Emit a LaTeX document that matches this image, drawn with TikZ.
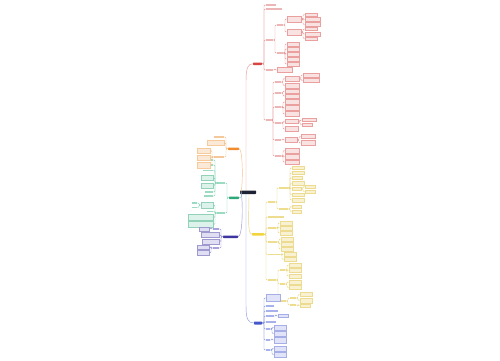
\documentclass[tikz,border=0pt]{standalone}
\definecolor{rL}{HTML}{E89A9A}\definecolor{rD}{HTML}{D9534F}\definecolor{rF}{HTML}{FDECEC}\definecolor{rT}{HTML}{EDB6B6}\definecolor{rM}{HTML}{D64541}
\definecolor{yL}{HTML}{EAD77A}\definecolor{yD}{HTML}{E3C34A}\definecolor{yF}{HTML}{FFF9DC}\definecolor{yT}{HTML}{EEDC8F}\definecolor{yM}{HTML}{F2D43D}
\definecolor{bL}{HTML}{8E9BE0}\definecolor{bD}{HTML}{5B6BD0}\definecolor{bF}{HTML}{EEF0FC}\definecolor{bT}{HTML}{A8B2EA}\definecolor{bM}{HTML}{4458C8}
\definecolor{gL}{HTML}{86D3B5}\definecolor{gD}{HTML}{3AAE80}\definecolor{gF}{HTML}{E8F8F1}\definecolor{gT}{HTML}{9ADBC2}\definecolor{gM}{HTML}{2EA878}
\definecolor{oL}{HTML}{F2C28C}\definecolor{oD}{HTML}{EE9F4A}\definecolor{oF}{HTML}{FDF2E6}\definecolor{oT}{HTML}{F3C89A}\definecolor{oM}{HTML}{F08C2E}
\definecolor{pL}{HTML}{9C96D8}\definecolor{pD}{HTML}{4E45A8}\definecolor{pF}{HTML}{EFEEF9}\definecolor{pT}{HTML}{A7A2DC}\definecolor{pM}{HTML}{3E35A0}
\definecolor{cM}{HTML}{1E2235}
\newcommand\MBX[6]{\node[#1,anchor=north west,minimum width=#5pt,minimum height=#6pt] (#2) at (#3,#4) {};}
\newcommand\MBXL[6]{\node[#1,anchor=north east,minimum width=#5pt,minimum height=#6pt] (#2) at (#3,#4) {};}
\newcommand\MLB[5]{\node[#1,anchor=west,minimum width=#5pt] (#2) at (#3,#4) {};}
\newcommand\MLBL[5]{\node[#1,anchor=east,minimum width=#5pt] (#2) at (#3,#4) {};}
\newcommand\ER[3]{\draw[#1] (#2.east) -- ++(2,0) |- (#3.west);}
\newcommand\EL[3]{\draw[#1] (#2.west) -- ++(-2,0) |- (#3.east);}
\begin{document}
\begin{tikzpicture}[x=1pt,y=-1pt,
  every node/.style={inner sep=0pt,outer sep=0pt},
  mainnode/.style={rounded corners=0.6pt},
  mainR/.style={mainnode,fill=rM},mainY/.style={mainnode,fill=yM},mainB/.style={mainnode,fill=bM},
  mainG/.style={mainnode,fill=gM},mainO/.style={mainnode,fill=oM},mainP/.style={mainnode,fill=pM},mainC/.style={mainnode,fill=cM},
  boxR/.style={draw=rD!55,fill=rT!40,line width=0.25pt},boxY/.style={draw=yD!60,fill=yT!40,line width=0.25pt},
  boxB/.style={draw=bD!55,fill=bT!35,line width=0.25pt},boxG/.style={draw=gD!55,fill=gT!35,line width=0.25pt},
  boxO/.style={draw=oD!55,fill=oT!40,line width=0.25pt},boxP/.style={draw=pD!55,fill=pT!35,line width=0.25pt},
  labR/.style={fill=rT,minimum height=1.6pt},labY/.style={fill=yT,minimum height=1.6pt},
  labB/.style={fill=bT,minimum height=1.6pt},labG/.style={fill=gT,minimum height=1.6pt},
  labO/.style={fill=oT,minimum height=1.6pt},labP/.style={fill=pT,minimum height=1.6pt},
  lnR/.style={draw=rL,line width=0.45pt,rounded corners=1pt},
  lnY/.style={draw=yL,line width=0.45pt,rounded corners=1pt},
  lnB/.style={draw=bL,line width=0.45pt,rounded corners=1pt},
  lnG/.style={draw=gL,line width=0.45pt,rounded corners=1pt},
  lnO/.style={draw=oL,line width=0.45pt,rounded corners=1pt},
  lnP/.style={draw=pL,line width=0.45pt,rounded corners=1pt}]
\fill[white] (0,0) rectangle (500,360);
\useasboundingbox (0,0) rectangle (500,360);
% centre
\MBX{mainC}{C}{240}{190.5}{16}{3.5}
% ===== red =====
\MBX{mainR}{R}{253}{62.5}{9}{2.5}
\MLB{labR}{ra}{266}{5}{10}
\MLB{labR}{rb}{266}{9}{16}
\MLB{labR}{rc}{266}{40}{7}
\MLB{labR}{rc1}{277}{25}{6}
\MBX{boxR}{rc1a}{287}{16}{14}{6}
\MBX{boxR}{rc1a1}{305}{13}{12}{3}
\MBX{boxR}{rc1a2}{305}{17.5}{15}{4}
\MBX{boxR}{rc1a3}{305}{22.5}{15}{4}
\MBX{boxR}{rc1b}{287}{29}{14}{6}
\MBX{boxR}{rc1b1}{305}{27.5}{12}{3}
\MBX{boxR}{rc1b2}{305}{32}{15}{4}
\MBX{boxR}{rc1b3}{305}{37}{12}{3}
\MLB{labR}{rc2}{277}{53}{6}
\MBX{boxR}{rc2a}{287}{42}{12}{4}
\MBX{boxR}{rc2b}{287}{47}{12}{4}
\MBX{boxR}{rc2c}{287}{52}{12}{4}
\MBX{boxR}{rc2d}{287}{57}{12}{4}
\MBX{boxR}{rc2e}{287}{62}{12}{4}
\MLB{labR}{rd}{266}{70}{7}
\MBX{boxR}{rd1}{277}{67.5}{15}{5}
\MLB{labR}{re}{266}{120}{5}
\MLB{labR}{re1}{275}{82}{6}
\MBX{boxR}{re1a}{285}{76}{14}{5}
\MBX{boxR}{re1a1}{303}{73}{16}{4}
\MBX{boxR}{re1a2}{303}{78.5}{16}{4}
\MBX{boxR}{re1b}{285}{83}{14}{5}
\MLB{labR}{re2}{275}{93}{6}
\MBX{boxR}{re2a}{285}{89}{14}{4}
\MBX{boxR}{re2b}{285}{94}{14}{4}
\MLB{labR}{re3}{275}{107}{6}
\MBX{boxR}{re3a}{285}{99.5}{14}{5}
\MBX{boxR}{re3b}{285}{105.5}{14}{5}
\MBX{boxR}{re3c}{285}{111.5}{14}{5}
\MLB{labR}{re4}{275}{123}{6}
\MBX{boxR}{re4a}{285}{119.5}{13}{4}
\MBX{boxR}{re4a1}{302}{118.5}{14}{3}
\MBX{boxR}{re4a2}{302}{123}{10}{3}
\MBX{boxR}{re4b}{285}{126.5}{13}{5}
\MLB{labR}{re5}{275}{140}{6}
\MBX{boxR}{re5a}{285}{137.5}{12}{5}
\MBX{boxR}{re5a1}{301}{134.5}{14}{4}
\MBX{boxR}{re5a2}{301}{140.5}{14}{5}
\MLB{labR}{re6}{275}{156}{6}
\MBX{boxR}{re6a}{285}{148}{14}{5}
\MBX{boxR}{re6b}{285}{154}{14}{5}
\MBX{boxR}{re6c}{285}{160}{14}{4}
\ER{lnR}{R}{ra}\ER{lnR}{R}{rb}\ER{lnR}{R}{rc}\ER{lnR}{R}{rd}\ER{lnR}{R}{re}
\ER{lnR}{rc}{rc1}\ER{lnR}{rc}{rc2}
\ER{lnR}{rc1}{rc1a}\ER{lnR}{rc1}{rc1b}
\ER{lnR}{rc1a}{rc1a1}\ER{lnR}{rc1a}{rc1a2}\ER{lnR}{rc1a}{rc1a3}
\ER{lnR}{rc1b}{rc1b1}\ER{lnR}{rc1b}{rc1b2}\ER{lnR}{rc1b}{rc1b3}
\ER{lnR}{rc2}{rc2a}\ER{lnR}{rc2}{rc2b}\ER{lnR}{rc2}{rc2c}\ER{lnR}{rc2}{rc2d}\ER{lnR}{rc2}{rc2e}
\ER{lnR}{rd}{rd1}
\ER{lnR}{re}{re1}\ER{lnR}{re}{re2}\ER{lnR}{re}{re3}\ER{lnR}{re}{re4}\ER{lnR}{re}{re5}\ER{lnR}{re}{re6}
\ER{lnR}{re1}{re1a}\ER{lnR}{re1}{re1b}\ER{lnR}{re1a}{re1a1}\ER{lnR}{re1a}{re1a2}
\ER{lnR}{re2}{re2a}\ER{lnR}{re2}{re2b}
\ER{lnR}{re3}{re3a}\ER{lnR}{re3}{re3b}\ER{lnR}{re3}{re3c}
\ER{lnR}{re4}{re4a}\ER{lnR}{re4}{re4b}\ER{lnR}{re4a}{re4a1}\ER{lnR}{re4a}{re4a2}
\ER{lnR}{re5}{re5a}\ER{lnR}{re5a}{re5a1}\ER{lnR}{re5a}{re5a2}
\ER{lnR}{re6}{re6a}\ER{lnR}{re6}{re6b}\ER{lnR}{re6}{re6c}
% ===== yellow =====
\MBX{mainY}{Y}{252}{233}{12}{2.5}
\MLB{labY}{ya}{268}{202}{7}
\MLB{labY}{ya1}{279}{188}{9}
\MBX{boxY}{ya1a}{292}{166.5}{12}{3}
\MBX{boxY}{ya1b}{292}{171.5}{12}{3}
\MBX{boxY}{ya1c}{292}{176.5}{10}{3}
\MBX{boxY}{ya1d}{292}{181.5}{12}{4}
\MBX{boxY}{ya1e}{292}{187}{9}{3}
\MBX{boxY}{ya1e1}{305}{185}{10}{3}
\MBX{boxY}{ya1e2}{305}{190}{10}{3}
\MBX{boxY}{ya1f}{292}{193}{12}{3}
\MBX{boxY}{ya1g}{292}{198}{12}{4}
\MLB{labY}{ya2}{279}{209}{9}
\MBX{boxY}{ya2a}{292}{205}{9}{3}
\MBX{boxY}{ya2b}{292}{210}{9}{3}
\MLB{labY}{yb}{268}{217}{16}
\MLB{labY}{yc}{268}{228}{8}
\MBX{boxY}{yca}{280}{221}{12}{4}
\MBX{boxY}{ycb}{280}{226}{12}{4}
\MBX{boxY}{ycc}{280}{231}{12}{4}
\MLB{labY}{yd}{268}{242}{9}
\MBX{boxY}{yda}{281}{237}{12}{4}
\MBX{boxY}{ydb}{281}{242}{12}{4}
\MBX{boxY}{ydc}{281}{247}{12}{4}
\MLB{labY}{ye}{268}{254.5}{12}
\MBX{boxY}{yea}{284}{252}{12}{4}
\MBX{boxY}{yeb}{284}{257.5}{12}{4}
\MLB{labY}{yf}{268}{280}{8}
\MLB{labY}{yf1}{280}{270}{5}
\MBX{boxY}{yf1a}{289}{263}{12}{4}
\MBX{boxY}{yf1b}{289}{268.5}{12}{4}
\MBX{boxY}{yf1c}{289}{274}{12}{4}
\MLB{labY}{yf2}{280}{284}{5}
\MBX{boxY}{yf2a}{289}{280}{12}{4}
\MBX{boxY}{yf2b}{289}{285.5}{12}{4}
\MLB{labY}{yf3}{280}{301}{6}
\MLB{labY}{yf3a}{290}{298}{6}
\MBX{boxY}{yf3a1}{300}{292.5}{12}{4}
\MBX{boxY}{yf3a2}{300}{298}{12}{5}
\MLB{labY}{yf3b}{290}{305}{6}
\MBX{boxY}{yf3b1}{300}{304}{10}{3}
\ER{lnY}{Y}{ya}\ER{lnY}{Y}{yb}\ER{lnY}{Y}{yc}\ER{lnY}{Y}{yd}\ER{lnY}{Y}{ye}\ER{lnY}{Y}{yf}
\ER{lnY}{ya}{ya1}\ER{lnY}{ya}{ya2}
\ER{lnY}{ya1}{ya1a}\ER{lnY}{ya1}{ya1b}\ER{lnY}{ya1}{ya1c}\ER{lnY}{ya1}{ya1d}\ER{lnY}{ya1}{ya1e}\ER{lnY}{ya1}{ya1f}\ER{lnY}{ya1}{ya1g}
\ER{lnY}{ya1e}{ya1e1}\ER{lnY}{ya1e}{ya1e2}
\ER{lnY}{ya2}{ya2a}\ER{lnY}{ya2}{ya2b}
\ER{lnY}{yc}{yca}\ER{lnY}{yc}{ycb}\ER{lnY}{yc}{ycc}
\ER{lnY}{yd}{yda}\ER{lnY}{yd}{ydb}\ER{lnY}{yd}{ydc}
\ER{lnY}{ye}{yea}\ER{lnY}{ye}{yeb}
\ER{lnY}{yf}{yf1}\ER{lnY}{yf}{yf2}\ER{lnY}{yf}{yf3}
\ER{lnY}{yf1}{yf1a}\ER{lnY}{yf1}{yf1b}\ER{lnY}{yf1}{yf1c}
\ER{lnY}{yf2}{yf2a}\ER{lnY}{yf2}{yf2b}
\ER{lnY}{yf3}{yf3a}\ER{lnY}{yf3}{yf3b}
\ER{lnY}{yf3a}{yf3a1}\ER{lnY}{yf3a}{yf3a2}\ER{lnY}{yf3b}{yf3b1}
% ===== blue =====
\MBX{mainB}{B}{254}{321.5}{8}{3}
\MBX{boxB}{b1}{266}{294.5}{14}{7}
\MLB{labB}{b2}{266}{306}{8}
\MLB{labB}{b3}{266}{311}{12}
\MLB{labB}{b4}{266}{316}{8}
\MBX{boxB}{b4a}{278}{314.5}{10}{3}
\MLB{labB}{b5}{266}{322}{10}
\MLB{labB}{b6}{266}{329}{4}
\MBX{boxB}{b6a}{274}{325}{12}{5}
\MBX{boxB}{b6b}{274}{331}{12}{5}
\MLB{labB}{b7}{266}{340}{4}
\MBX{boxB}{b7a}{274}{337}{12}{6}
\MLB{labB}{b8}{266}{350}{4}
\MBX{boxB}{b8a}{274}{346}{12}{5}
\MBX{boxB}{b8b}{274}{352}{12}{5}
\ER{lnB}{B}{b1}\ER{lnB}{B}{b2}\ER{lnB}{B}{b3}\ER{lnB}{B}{b4}\ER{lnB}{B}{b5}\ER{lnB}{B}{b6}\ER{lnB}{B}{b7}\ER{lnB}{B}{b8}
\ER{lnB}{b4}{b4a}\ER{lnB}{b6}{b6a}\ER{lnB}{b6}{b6b}\ER{lnB}{b7}{b7a}\ER{lnB}{b8}{b8a}\ER{lnB}{b8}{b8b}
% ===== green =====
\MBX{mainG}{G}{229}{196.5}{10}{2.5}
\MLBL{labG}{ga}{225}{183}{8}
\MLBL{labG}{ga1}{213}{160}{9}
\MLBL{labG}{ga2}{213}{165}{8}
\MLBL{labG}{ga3}{213}{170.5}{10}
\MBXL{boxG}{ga4}{213}{175.5}{12}{5}
\MBXL{boxG}{ga5}{213}{183}{12}{5}
\MLBL{labG}{ga6}{213}{192}{8}
\MLBL{labG}{ga7}{213}{196}{9}
\MLBL{labG}{gb}{225}{213}{8}
\MBXL{boxG}{gb1}{213}{202}{12}{6}
\MLBL{labG}{gb1a}{197}{203}{5}
\MLBL{labG}{gb1b}{197}{207.5}{5}
\MLBL{labG}{gb2}{213}{211.5}{6}
\MBXL{boxG}{gb3}{213}{214.5}{25}{6}
\MBXL{boxG}{gb4}{213}{221.5}{25}{6}
\EL{lnG}{G}{ga}\EL{lnG}{G}{gb}
\EL{lnG}{ga}{ga1}\EL{lnG}{ga}{ga2}\EL{lnG}{ga}{ga3}\EL{lnG}{ga}{ga4}\EL{lnG}{ga}{ga5}\EL{lnG}{ga}{ga6}\EL{lnG}{ga}{ga7}
\EL{lnG}{gb}{gb1}\EL{lnG}{gb}{gb2}\EL{lnG}{gb}{gb3}\EL{lnG}{gb}{gb4}
\EL{lnG}{gb1}{gb1a}\EL{lnG}{gb1}{gb1b}
% ===== orange =====
\MBX{mainO}{O}{228}{147.5}{11}{2.5}
\MLBL{labO}{oa}{224}{137}{10}
\MBXL{boxO}{ob}{224}{140.5}{17}{5}
\MLBL{labO}{oc}{224}{157}{10}
\MBXL{boxO}{oc1}{210}{148}{13}{5}
\MBXL{boxO}{oc2}{210}{155}{13}{5}
\MBXL{boxO}{oc3}{210}{162}{13}{6}
\EL{lnO}{O}{oa}\EL{lnO}{O}{ob}\EL{lnO}{O}{oc}
\EL{lnO}{oc}{oc1}\EL{lnO}{oc}{oc2}\EL{lnO}{oc}{oc3}
% ===== purple =====
\MBX{mainP}{P}{223}{235.5}{15}{2.5}
\MLBL{labP}{pa}{219}{229}{6}
\MBXL{boxP}{pa1}{209}{227}{10}{4}
\MBXL{boxP}{pb}{219}{232.5}{18}{5}
\MBXL{boxP}{pc}{219}{239}{17}{5}
\MLBL{labP}{pd}{219}{248}{6}
\MBXL{boxP}{pd1}{209}{245}{12}{4}
\MBXL{boxP}{pd2}{209}{250.5}{12}{5}
\EL{lnP}{P}{pa}\EL{lnP}{P}{pb}\EL{lnP}{P}{pc}\EL{lnP}{P}{pd}
\EL{lnP}{pa}{pa1}\EL{lnP}{pd}{pd1}\EL{lnP}{pd}{pd2}
% ===== centre connectors =====
\draw[lnR] ([xshift=-2pt]C.north) -- (246,82) .. controls (246,68) and (248,63.75) .. (R.west);
\draw[lnB] ([xshift=-2pt]C.south) -- (246,305) .. controls (246,319) and (248,323) .. (B.west);
\draw[lnY] ([xshift=1pt]C.south) .. controls (249,215) and (247,234.25) .. (Y.west);
\draw[lnO] ([xshift=1pt]C.west) .. controls (243,185) and (243,148.75) .. (O.east);
\draw[lnG] ([xshift=1pt]C.west) .. controls (242,195) and (242,197.75) .. (G.east);
\draw[lnP] ([xshift=1pt]C.west) .. controls (243,200) and (243,236.75) .. (P.east);
\end{tikzpicture}
\end{document}
